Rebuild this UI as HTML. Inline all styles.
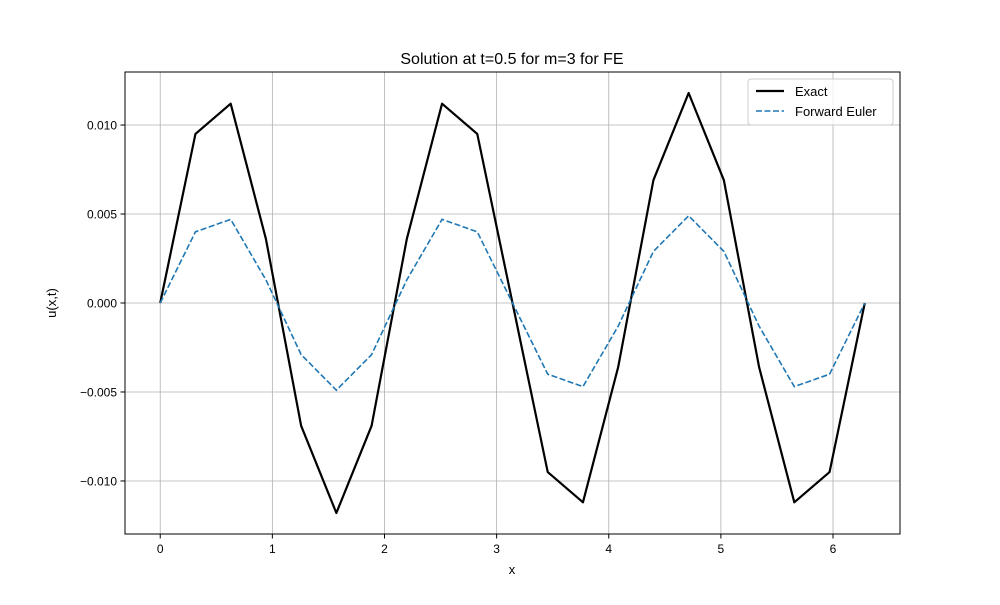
<!DOCTYPE html>
<html><head><meta charset="utf-8"><style>
body{margin:0;background:#fff}
svg{font-family:"Liberation Sans","DejaVu Sans",sans-serif}
</style></head><body>
<svg id="c" width="1000" height="600" xmlns="http://www.w3.org/2000/svg">
<rect width="1000" height="600" fill="#fff"/>
<g id="grid"></g>
<g id="series"></g>
<rect x="125" y="72" width="775" height="462" fill="none" stroke="#000" stroke-width="1"/>
<g id="ticks"></g>
<text x="512" y="64" text-anchor="middle" font-size="16">Solution at t=0.5 for m=3 for FE</text>
<text x="512" y="574" text-anchor="middle" font-size="13">x</text>
<text transform="translate(56,303) rotate(-90)" text-anchor="middle" font-size="13">u(x,t)</text>
<g>
<rect x="748" y="79" width="145" height="46" rx="3" fill="#fff" fill-opacity="0.8" stroke="#ccc"/>
<g>
<line x1="756" y1="91" x2="784" y2="91" stroke="#000" stroke-width="2.2"/>
<text x="795" y="96" font-size="13">Exact</text></g>
<g>
<line x1="756" y1="111" x2="784" y2="111" stroke="#1f77b4" stroke-width="1.6" stroke-dasharray="6,2.5"/>
<text x="795" y="116" font-size="13">Forward Euler</text></g>
</g>
</svg>
<script>
const exactVals=[0,0.0095,0.0112,0.0036,-0.0069,-0.0118,-0.0069,0.0036,0.0112,0.0095,0,-0.0095,-0.0112,-0.0036,0.0069,0.0118,0.0069,-0.0036,-0.0112,-0.0095,0];
const feVals=[0,0.0040,0.0047,0.0013,-0.0029,-0.0049,-0.0029,0.0013,0.0047,0.0040,0,-0.0040,-0.0047,-0.0013,0.0029,0.0049,0.0029,-0.0013,-0.0047,-0.0040,0];
const xTicks=[0,1,2,3,4,5,6];
const yTicks=[-0.010,-0.005,0.000,0.005,0.010];
const yTickLabels=["\u22120.010","\u22120.005","0.000","0.005","0.010"];
const NS="http://www.w3.org/2000/svg";
const n=exactVals.length, xmax=2*Math.PI;
const xd0=-xmax*0.05, xd1=xmax*1.05;
const allV=exactVals.concat(feVals);
const vmin=Math.min(...allV), vmax=Math.max(...allV), pad=(vmax-vmin)*0.05;
const yd0=vmin-pad, yd1=vmax+pad;
const X=v=>125+(v-xd0)/(xd1-xd0)*775;
const Y=v=>534-(v-yd0)/(yd1-yd0)*462;
function mk(t,a,p){const e=document.createElementNS(NS,t);for(const k in a)e.setAttribute(k,a[k]);p.appendChild(e);return e;}
const grid=document.getElementById('grid'),ticks=document.getElementById('ticks'),series=document.getElementById('series');
xTicks.forEach(t=>{
 const g=mk('line',{x1:X(t),x2:X(t),y1:72,y2:534,stroke:'#b0b0b0','stroke-width':0.8},grid);
 
 
 mk('line',{x1:X(t),x2:X(t),y1:534,y2:538.5,stroke:'#000'},ticks);
 const tx=mk('text',{x:X(t),y:553,'text-anchor':'middle','font-size':12},ticks);
 tx.textContent=String(t);
 
 
});
yTicks.forEach((t,i)=>{
 const g=mk('line',{x1:125,x2:900,y1:Y(t),y2:Y(t),stroke:'#b0b0b0','stroke-width':0.8},grid);
 
 
 mk('line',{x1:120.5,x2:125,y1:Y(t),y2:Y(t),stroke:'#000'},ticks);
 const tx=mk('text',{x:117,y:Y(t)+4.5,'text-anchor':'end','font-size':12},ticks);
 tx.textContent=yTickLabels[i];
 
 
});
function pts(a){return a.map((v,i)=>X(i*xmax/(n-1)).toFixed(2)+','+Y(v).toFixed(2)).join(' ');}
const l1=mk('polyline',{points:pts(exactVals),fill:'none',stroke:'#000','stroke-width':2.2,'stroke-linejoin':'round'},series);


const l2=mk('polyline',{points:pts(feVals),fill:'none',stroke:'#1f77b4','stroke-width':1.6,'stroke-dasharray':'6,2.5'},series);


</script>
</body></html>
